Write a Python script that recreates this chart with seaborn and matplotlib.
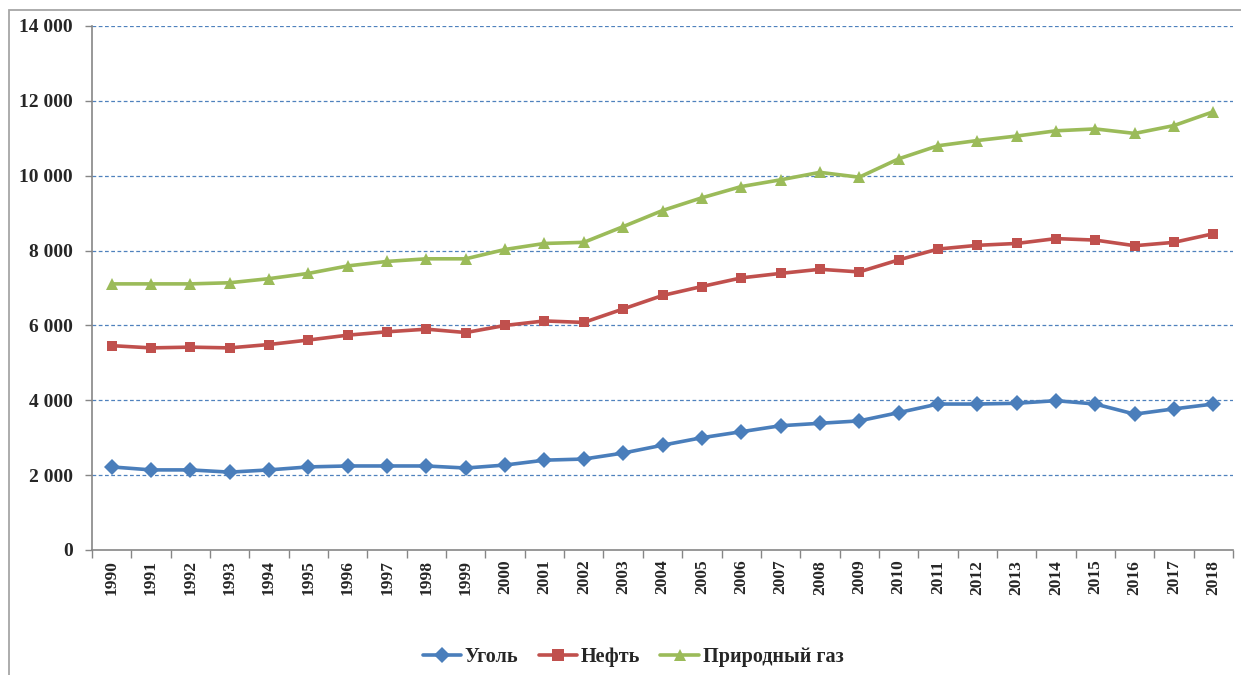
import matplotlib
matplotlib.use("Agg")
import matplotlib.pyplot as plt
import seaborn as sns
import pandas as pd
from matplotlib.patches import Rectangle
from matplotlib.ticker import FuncFormatter

years = list(range(1990, 2019))
coal = [2220, 2140, 2140, 2080, 2140, 2220, 2245, 2245, 2245, 2190,
        2270, 2400, 2430, 2590, 2800, 3000, 3160, 3320, 3385, 3450,
        3670, 3900, 3900, 3920, 3990, 3900, 3630, 3770, 3900]
oil = [5460, 5400, 5420, 5400, 5490, 5610, 5740, 5830, 5900, 5810,
       6000, 6120, 6080, 6440, 6800, 7040, 7270, 7390, 7500, 7430,
       7750, 8040, 8140, 8190, 8320, 8280, 8130, 8220, 8450]
gas = [7110, 7110, 7110, 7140, 7250, 7390, 7590, 7710, 7780, 7780,
       8030, 8190, 8220, 8640, 9070, 9410, 9710, 9890, 10090, 9960,
       10450, 10800, 10940, 11060, 11200, 11250, 11130, 11340, 11710]
series_names = ["Уголь", "Нефть", "Природный газ"]
y_ticks = [0, 2000, 4000, 6000, 8000, 10000, 12000, 14000]

rows = []
for name, vals in zip(series_names, [coal, oil, gas]):
    for i, (yr, v) in enumerate(zip(years, vals)):
        rows.append({"idx": i, "year": yr, "value": v, "series": name})
df = pd.DataFrame(rows)

sns.set_theme(style="white")
plt.rcParams['font.family'] = ['Liberation Serif', 'DejaVu Serif']
plt.rcParams['font.weight'] = 'bold'

fig = plt.figure(figsize=(12.41, 6.75), dpi=100)
ax = fig.add_axes([92/1241, 1-550/675, (1233-92)/1241, (550-26)/675])

palette = {"Уголь": "#4A7EBB", "Нефть": "#C0504D", "Природный газ": "#9BBB59"}
markers = {"Уголь": "D", "Нефть": "s", "Природный газ": "^"}

sns.lineplot(data=df, x="idx", y="value", hue="series", style="series",
             hue_order=series_names, style_order=series_names,
             palette=palette, markers=markers, dashes=False,
             linewidth=2.6, markersize=8, markeredgewidth=0,
             ax=ax, legend=True)

for line, name in zip(ax.lines[:3], series_names):
    if name == "Уголь":
        line.set_markersize(8)
    elif name == "Нефть":
        line.set_markersize(7.5)
    else:
        line.set_markersize(9)

ax.set_xlim(-0.5, len(years) - 0.5)
ax.set_ylim(0, 14000)
ax.set_yticks(y_ticks)
ax.yaxis.set_major_formatter(FuncFormatter(lambda v, p: f"{int(v):,}".replace(",", " ")))
ax.set_xticks(range(len(years)))
ax.set_xticklabels([str(y) for y in years], rotation=90, fontsize=12.5, fontweight='bold')
ax.tick_params(axis='x', length=0, pad=7)
ax.tick_params(axis='y', labelsize=14, length=5, width=1, color='#868686', direction='out', pad=9, left=True)
for t in ax.get_yticklabels():
    t.set_fontweight('bold')

# category boundary ticks on x axis
ax.set_xticks([i - 0.5 for i in range(len(years) + 1)], minor=True)
ax.tick_params(axis='x', which='minor', length=6, width=1, color='#868686', direction='out', bottom=True)

for y in y_ticks[1:]:
    ax.axhline(y, color='#4F81BD', lw=0.9, ls=(0, (3, 2)), zorder=0)

ax.set_xlabel("")
ax.set_ylabel("")
for s in ['top', 'right']:
    ax.spines[s].set_visible(False)
for s in ['left', 'bottom']:
    ax.spines[s].set_color('#868686')
    ax.spines[s].set_linewidth(1.2)

handles, labels = ax.get_legend_handles_labels()
ax.get_legend().remove()
leg = fig.legend(handles, labels, loc='center', bbox_to_anchor=(633/1241, 1-657/675),
                 ncol=3, frameon=False, handlelength=1.9, handletextpad=0.2,
                 columnspacing=1.0, prop={'family': 'Liberation Serif', 'weight': 'bold', 'size': 14.5})

# outer chart frame
fig.patches.append(Rectangle((9/1241, -0.1), 1.2, 1 - 10/675 + 0.1, transform=fig.transFigure,
                             fill=False, edgecolor='#A6A6A6', lw=1.3))

fig.savefig("out.png", dpi=100)
